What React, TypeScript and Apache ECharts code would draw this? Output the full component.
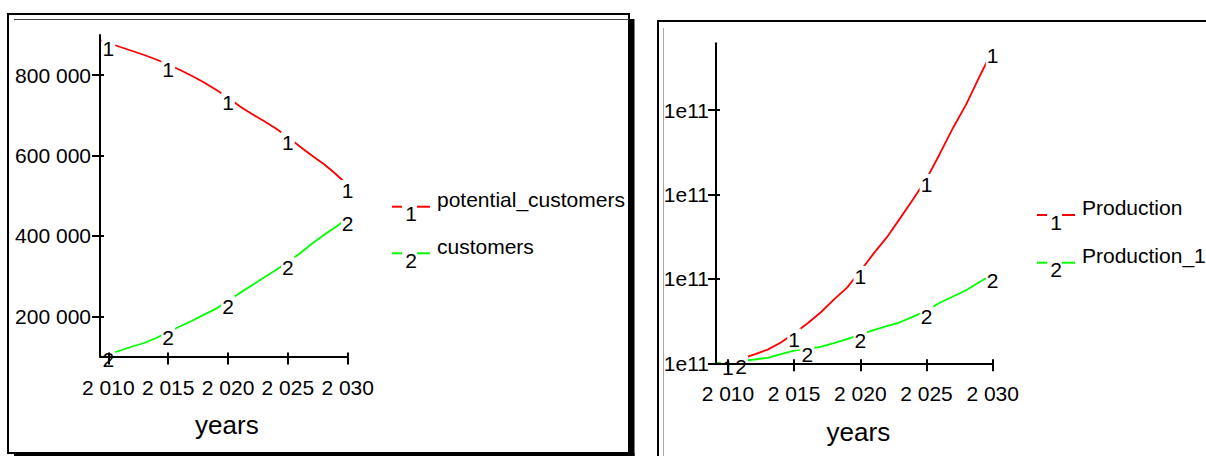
import React, { useEffect, useRef } from "react";
import * as echarts from "echarts";

// ---------- data ----------
const leftYears = [2009.3, 2010, 2011, 2012, 2013, 2014, 2015, 2016, 2017, 2018, 2019, 2020, 2021, 2022, 2023, 2024, 2025, 2026, 2027, 2028, 2029, 2030];
const potentialCustomers = [887600, 880100, 870100, 860200, 850200, 839000, 826600, 812900, 798000, 781800, 763500, 744500, 722100, 703400, 686000, 667400, 646200, 622600, 600200, 579000, 554100, 526800];
const customers = [100000, 106200, 114900, 124900, 133600, 146000, 161000, 175400, 189100, 204300, 219000, 239000, 258300, 277200, 296300, 315500, 335900, 356300, 380400, 402300, 422200, 444600];

const rightYears = [2009.1, 2010, 2011, 2012, 2013, 2014, 2015, 2016, 2017, 2018, 2019, 2020, 2021, 2022, 2023, 2024, 2025, 2026, 2027, 2028, 2029, 2030];
const production = [1.0000e11, 1.0015e11, 1.0053e11, 1.0106e11, 1.0162e11, 1.0246e11, 1.0353e11, 1.0472e11, 1.0602e11, 1.0754e11, 1.0897e11, 1.1094e11, 1.1299e11, 1.1491e11, 1.1717e11, 1.1946e11, 1.2184e11, 1.2480e11, 1.2788e11, 1.3068e11, 1.3395e11, 1.3712e11];
const production1 = [1.0000e11, 1.0013e11, 1.0027e11, 1.0045e11, 1.0065e11, 1.0110e11, 1.0149e11, 1.0175e11, 1.0194e11, 1.0238e11, 1.0286e11, 1.0340e11, 1.0392e11, 1.0440e11, 1.0486e11, 1.0553e11, 1.0624e11, 1.0717e11, 1.0791e11, 1.0866e11, 1.0964e11, 1.1052e11];

const yearTicks = [2010, 2015, 2020, 2025, 2030];
const leftYTicks = [200000, 400000, 600000, 800000];
const rightYTicks = [1.0e11, 1.1e11, 1.2e11, 1.3e11];

const leftNames = ["potential_customers", "customers"];
const rightNames = ["Production", "Production_1"];
const markers = ["1", "2"];
const leftLabelYears = [[2010, 2015, 2020, 2025, 2030], [2010, 2015, 2020, 2025, 2030]];
const rightLabelYears = [[2010, 2015, 2020, 2025, 2030], [2011, 2016, 2020, 2025, 2030]];
const xTitle = "years";

// ---------- style ----------
const FONT = "'Liberation Sans', Arial, sans-serif";
const RED = "#ff0000";
const GREEN = "#00ff00";
const FS = 21;

const spaced = (v: number) => Math.round(v).toString().replace(/\B(?=(\d{3})+(?!\d))/g, " ");
const sci = (v: number) => v.toExponential(0).replace("+", "");

function lineSeries(name: string, years: number[], values: number[], color: string, marker: string, labelYears: number[], idx: number) {
  return {
    type: "line",
    name,
    xAxisIndex: idx,
    yAxisIndex: idx,
    data: years.map((yr, i) => ({ value: [yr, values[i]], label: { show: labelYears.includes(yr) } })),
    symbol: "circle",
    symbolSize: 1,
    showSymbol: true,
    itemStyle: { color: "rgba(0,0,0,0)" },
    lineStyle: { color, width: 1.8 },
    label: {
      formatter: marker,
      position: "inside",
      offset: [0, 5.5],
      color: "#000",
      fontSize: FS,
      fontFamily: FONT,
      backgroundColor: "#fff",
      padding: [0, 1],
      lineHeight: 21,
    },
    emphasis: { disabled: true },
    silent: true,
    z: 2,
  };
}

const axisLineStyle = { color: "#000", width: 2 };

function mainX(gridIndex: number, min: number, max: number, margin: number, nameGap: number, namePad: number) {
  return {
    type: "value", gridIndex, min, max, z: 5,
    axisLine: { show: true, onZero: false, lineStyle: axisLineStyle },
    axisTick: { show: true, length: 8, customValues: yearTicks, lineStyle: axisLineStyle },
    axisLabel: { customValues: yearTicks, formatter: spaced, margin, fontSize: FS, color: "#000", fontFamily: FONT },
    splitLine: { show: false },
    name: xTitle, nameLocation: "middle", nameGap,
    nameTextStyle: { fontSize: 26, color: "#000", fontFamily: FONT, padding: [0, 0, 0, namePad] },
  };
}
function innerX(gridIndex: number, min: number, max: number) {
  return {
    type: "value", gridIndex, min, max, z: 5, position: "bottom",
    axisLine: { show: false, onZero: false },
    axisTick: { show: true, inside: true, length: 4, customValues: yearTicks, lineStyle: axisLineStyle },
    axisLabel: { show: false },
    splitLine: { show: false },
  };
}
function mainY(gridIndex: number, min: number, max: number, ticks: number[], fmt: (v: number) => string, margin: number) {
  return {
    type: "value", gridIndex, min, max, z: 5,
    axisLine: { show: true, onZero: false, lineStyle: axisLineStyle },
    axisTick: { show: true, length: 8, customValues: ticks, lineStyle: axisLineStyle },
    axisLabel: { customValues: ticks, formatter: fmt, margin, fontSize: FS, color: "#000", fontFamily: FONT },
    splitLine: { show: false },
  };
}
function innerY(gridIndex: number, min: number, max: number, ticks: number[]) {
  return {
    type: "value", gridIndex, min, max, z: 5, position: "left",
    axisLine: { show: false, onZero: false },
    axisTick: { show: true, inside: true, length: 4, customValues: ticks, lineStyle: axisLineStyle },
    axisLabel: { show: false },
    splitLine: { show: false },
  };
}

function legendItem(x0: number, y: number, color: string, marker: string, text: string) {
  return [
    { type: "line", z: 100, shape: { x1: x0, y1: y, x2: x0 + 10, y2: y }, style: { stroke: color, lineWidth: 2 } },
    { type: "line", z: 100, shape: { x1: x0 + 25, y1: y, x2: x0 + 38, y2: y }, style: { stroke: color, lineWidth: 2 } },
    { type: "text", z: 100, x: x0 + 19, y: y + 7, style: { text: marker, fill: "#000", fontSize: FS, fontFamily: FONT, align: "center", verticalAlign: "middle" } },
    { type: "text", z: 100, x: x0 + 45, y: y - 7.3, style: { text, fill: "#000", fontSize: FS, fontFamily: FONT, align: "left", verticalAlign: "middle" } },
  ];
}

export default function App() {
  const ref = useRef<HTMLDivElement>(null);
  useEffect(() => {
    if (!ref.current) return;
    const chart = echarts.init(ref.current, undefined, { renderer: "svg" });
    const leftXMin = leftYears[0];
    const rightXMin = rightYears[0];
    const option = {
      animation: false,
      backgroundColor: "#fff",
      grid: [
        { left: 100, top: 35, width: 247.7, height: 321.5, containLabel: false, outerBoundsMode: "none" },
        { left: 716, top: 43.3, width: 276.7, height: 320, containLabel: false, outerBoundsMode: "none" },
      ],
      xAxis: [
        mainX(0, leftXMin, 2030, 20, 55, 6),
        mainX(1, rightXMin, 2030, 20, 56, 8),
        innerX(0, leftXMin, 2030),
        innerX(1, rightXMin, 2030),
      ],
      yAxis: [
        mainY(0, 100000, 900000, leftYTicks, spaced, 9),
        mainY(1, 1e11, 1.3791e11, rightYTicks, sci, 7),
        innerY(0, 100000, 900000, leftYTicks),
        innerY(1, 1e11, 1.3791e11, rightYTicks),
      ],
      series: [
        lineSeries(leftNames[0], leftYears, potentialCustomers, RED, markers[0], leftLabelYears[0], 0),
        lineSeries(leftNames[1], leftYears, customers, GREEN, markers[1], leftLabelYears[1], 0),
        lineSeries(rightNames[0], rightYears, production, RED, markers[0], rightLabelYears[0], 1),
        lineSeries(rightNames[1], rightYears, production1, GREEN, markers[1], rightLabelYears[1], 1),
      ],
      graphic: [
        ...legendItem(392, 206.7, RED, markers[0], leftNames[0]),
        ...legendItem(392, 253.3, GREEN, markers[1], leftNames[1]),
        ...legendItem(1037, 215, RED, markers[0], rightNames[0]),
        ...legendItem(1037, 262.7, GREEN, markers[1], rightNames[1]),
        // left panel frame
        { type: "rect", z: 101, shape: { x: 8, y: 14, width: 621, height: 439 }, style: { fill: "none", stroke: "#000", lineWidth: 2 } },
        { type: "line", z: 101, shape: { x1: 14, y1: 19.5, x2: 629, y2: 19.5 }, style: { stroke: "#444", lineWidth: 1 } },
        { type: "rect", z: 101, shape: { x: 629, y: 19, width: 5.5, height: 440 }, style: { fill: "#000" } },
        { type: "rect", z: 101, shape: { x: 14, y: 453, width: 620.5, height: 6 }, style: { fill: "#000" } },
        // right panel frame
        { type: "rect", z: 101, shape: { x: 658, y: 21, width: 700, height: 600 }, style: { fill: "none", stroke: "#000", lineWidth: 2 } },
        { type: "line", z: 101, shape: { x1: 663.5, y1: 28, x2: 663.5, y2: 460 }, style: { stroke: "#aaa", lineWidth: 1 } },
      ],
    };
    chart.setOption(option as any);
    return () => chart.dispose();
  }, []);
  return <div ref={ref} style={{ position: "fixed", left: 0, top: 0, width: 1206, height: 456, background: "#fff" }} />;
}
